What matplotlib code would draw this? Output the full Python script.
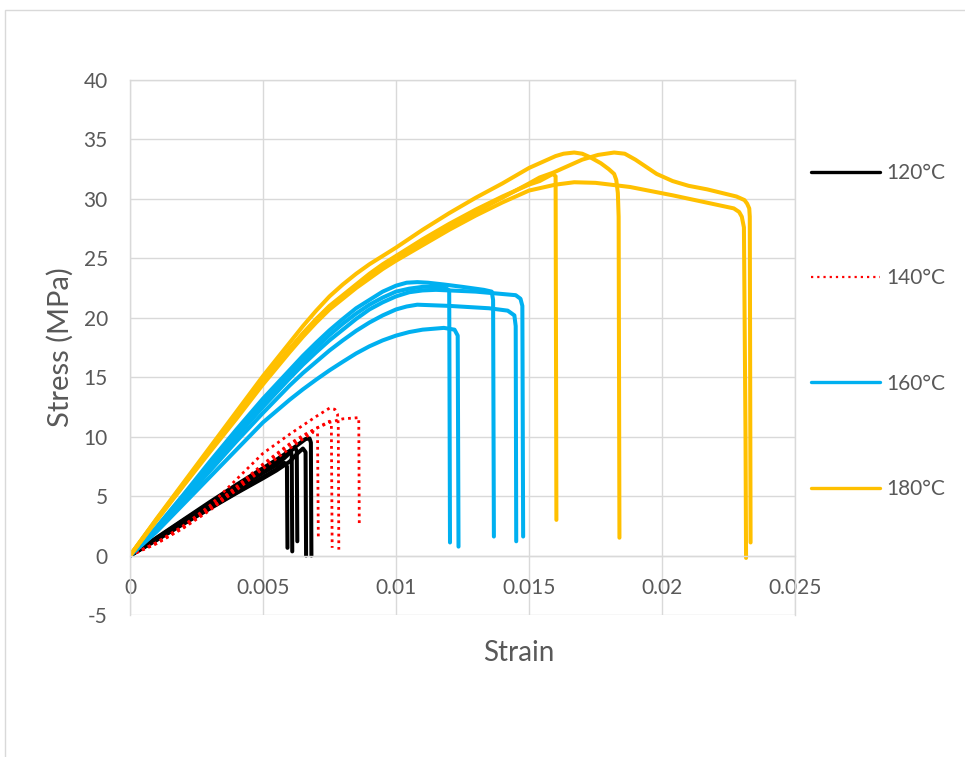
import matplotlib
matplotlib.use("Agg")
import matplotlib.pyplot as plt
from matplotlib.patches import Rectangle
from matplotlib.lines import Line2D

# ---- tensile test curves: strain (-) and stress (MPa), one list per specimen ----
strain_120 = [
    [0, 0.001, 0.002, 0.003, 0.004, 0.005, 0.0055, 0.0058, 0.0059, 0.00592],
    [0, 0.001, 0.002, 0.003, 0.004, 0.005, 0.0055, 0.0059, 0.00605, 0.00608, 0.0061],
    [0, 0.001, 0.002, 0.003, 0.004, 0.005, 0.0055, 0.006, 0.0062, 0.00627, 0.00629],
    [0, 0.001, 0.002, 0.003, 0.004, 0.005, 0.0055, 0.006, 0.0063, 0.0065, 0.0066, 0.00662],
    [0, 0.001, 0.002, 0.003, 0.004, 0.005, 0.0055, 0.006, 0.0063, 0.0066, 0.00675, 0.0068, 0.00682],
]
stress_120 = [
    [0, 1.35, 2.7, 4.0, 5.3, 6.6, 7.25, 7.8, 7.5, 0.65],
    [0, 1.4, 2.85, 4.25, 5.6, 6.95, 7.6, 8.4, 8.8, 8.4, 0.35],
    [0, 1.45, 2.95, 4.4, 5.8, 7.2, 7.9, 8.7, 9.1, 8.8, 1.2],
    [0, 1.3, 2.65, 3.95, 5.25, 6.5, 7.15, 7.9, 8.6, 9.0, 8.7, 0],
    [0, 1.5, 3.0, 4.5, 5.95, 7.35, 8.05, 8.8, 9.3, 9.8, 9.85, 9.5, 0],
]

strain_140 = [
    [0, 0.001, 0.002, 0.003, 0.004, 0.005, 0.006, 0.0065, 0.007, 0.0075, 0.0077, 0.0078, 0.00783, 0.00785],
    [0, 0.001, 0.002, 0.003, 0.004, 0.005, 0.006, 0.0065, 0.007, 0.0075, 0.00757, 0.0076],
    [0, 0.001, 0.002, 0.003, 0.004, 0.005, 0.006, 0.0065, 0.0069, 0.00705, 0.00708],
    [0, 0.001, 0.002, 0.003, 0.004, 0.005, 0.006, 0.0065, 0.007, 0.0075, 0.008, 0.0086, 0.00862],
]
stress_140 = [
    [0, 1.1, 2.5, 4.2, 6.4, 8.6, 10.2, 10.95, 11.7, 12.4, 12.3, 11.9, 11.0, 0.5],
    [0, 1.05, 2.35, 3.9, 5.7, 7.6, 9.3, 10.0, 10.7, 11.3, 11.0, 0.65],
    [0, 1.0, 2.3, 3.8, 5.5, 7.3, 9.0, 9.8, 10.4, 10.3, 1.5],
    [0, 1.05, 2.4, 4.0, 5.8, 7.7, 9.4, 10.1, 10.7, 11.2, 11.5, 11.6, 2.5],
]

strain_160 = [
    [0, 0.0005, 0.001, 0.002, 0.003, 0.004, 0.005, 0.006, 0.0065, 0.007, 0.0075, 0.008, 0.0085,
     0.009, 0.0095, 0.010, 0.0104, 0.0108, 0.0112, 0.0118, 0.0125, 0.0133, 0.0136, 0.01365, 0.01368],
    [0, 0.0005, 0.001, 0.002, 0.003, 0.004, 0.005, 0.006, 0.0065, 0.007, 0.0075, 0.008, 0.0085,
     0.009, 0.0095, 0.010, 0.0105, 0.011, 0.0115, 0.013, 0.0145, 0.01468, 0.01475, 0.01478],
    [0, 0.0005, 0.001, 0.002, 0.003, 0.004, 0.005, 0.006, 0.0065, 0.007, 0.0075, 0.008, 0.0085,
     0.009, 0.0095, 0.010, 0.0104, 0.0108, 0.012, 0.0135, 0.0142, 0.01445, 0.0145, 0.01452],
    [0, 0.0005, 0.001, 0.002, 0.003, 0.004, 0.005, 0.006, 0.0065, 0.007, 0.0075, 0.008, 0.0085,
     0.009, 0.0095, 0.010, 0.0105, 0.011, 0.0118, 0.0122, 0.01232, 0.01235],
    [0, 0.0005, 0.001, 0.002, 0.003, 0.004, 0.005, 0.006, 0.0065, 0.007, 0.0075, 0.008, 0.0085,
     0.009, 0.0095, 0.010, 0.0105, 0.011, 0.0118, 0.0120, 0.01203],
]
stress_160 = [
    [0, 1.2, 2.4, 5.1, 7.9, 10.6, 13.2, 15.6, 16.8, 17.9, 18.95, 19.9, 20.8,
     21.5, 22.2, 22.7, 22.95, 23.0, 22.95, 22.8, 22.6, 22.35, 22.2, 21.5, 1.6],
    [0, 1.1, 2.2, 4.8, 7.4, 10.0, 12.5, 14.9, 16.05, 17.1, 18.1, 19.0, 19.9,
     20.7, 21.3, 21.8, 22.15, 22.3, 22.35, 22.2, 21.9, 21.6, 21.0, 1.6],
    [0, 1.05, 2.1, 4.6, 7.1, 9.6, 12.0, 14.3, 15.35, 16.3, 17.25, 18.1, 18.9,
     19.6, 20.2, 20.7, 20.95, 21.1, 21.0, 20.8, 20.6, 20.2, 19.3, 1.2],
    [0, 1.0, 2.0, 4.3, 6.6, 8.9, 11.2, 13.1, 13.98, 14.8, 15.58, 16.3, 17.0,
     17.6, 18.1, 18.5, 18.8, 19.0, 19.15, 19.0, 18.5, 0.75],
    [0, 1.15, 2.3, 5.0, 7.7, 10.4, 12.9, 15.3, 16.45, 17.5, 18.55, 19.5, 20.35,
     21.1, 21.7, 22.2, 22.45, 22.6, 22.6, 22.3, 1.1],
]

strain_180 = [
    [0, 0.001, 0.002, 0.003, 0.004, 0.005, 0.006, 0.0065, 0.007, 0.0075, 0.008, 0.0085, 0.009,
     0.0095, 0.010, 0.011, 0.012, 0.013, 0.014, 0.015, 0.0155, 0.016, 0.0163, 0.0167, 0.0170,
     0.0173, 0.0177, 0.0180, 0.0182, 0.01828, 0.01834, 0.01837, 0.0184],
    [0, 0.001, 0.002, 0.003, 0.004, 0.005, 0.006, 0.0065, 0.007, 0.0075, 0.008, 0.0085, 0.009,
     0.0095, 0.010, 0.011, 0.012, 0.013, 0.014, 0.015, 0.0154, 0.0159, 0.0160, 0.01603],
    [0, 0.001, 0.002, 0.003, 0.004, 0.005, 0.006, 0.0065, 0.007, 0.0075, 0.008, 0.0085, 0.009,
     0.0095, 0.010, 0.011, 0.012, 0.013, 0.014, 0.015, 0.0154, 0.0159, 0.0165, 0.0170, 0.0176,
     0.0182, 0.0186, 0.0190, 0.0194, 0.0198, 0.0204, 0.0210, 0.0217, 0.0228, 0.0231, 0.0232,
     0.02328, 0.0233, 0.02333],
    [0, 0.001, 0.002, 0.003, 0.004, 0.005, 0.006, 0.0065, 0.007, 0.0075, 0.008, 0.0085, 0.009,
     0.0095, 0.010, 0.011, 0.012, 0.013, 0.014, 0.015, 0.0154, 0.0160, 0.0167, 0.0175, 0.0188,
     0.0204, 0.0227, 0.0229, 0.0230, 0.02308, 0.02314, 0.02316],
]
stress_180 = [
    [0, 3.1, 6.1, 9.1, 12.1, 15.1, 17.9, 19.3, 20.6, 21.8, 22.8, 23.7, 24.5,
     25.2, 25.9, 27.4, 28.8, 30.1, 31.3, 32.6, 33.1, 33.6, 33.8, 33.9, 33.8,
     33.5, 33.0, 32.5, 32.1, 31.6, 30.5, 28.5, 1.5],
    [0, 3.05, 6.0, 8.9, 11.8, 14.7, 17.4, 18.7, 19.9, 21.0, 21.9, 22.8, 23.7,
     24.5, 25.2, 26.6, 27.9, 29.1, 30.2, 31.2, 31.5, 32.1, 31.9, 3.0],
    [0, 3.0, 5.9, 8.8, 11.7, 14.6, 17.3, 18.6, 19.8, 20.9, 21.8, 22.7, 23.5,
     24.3, 25.0, 26.3, 27.6, 28.9, 30.1, 31.3, 31.8, 32.2, 32.8, 33.3, 33.7,
     33.9, 33.8, 33.3, 32.7, 32.1, 31.5, 31.1, 30.8, 30.2, 29.9, 29.6,
     29.2, 28.5, 1.1],
    [0, 2.95, 5.85, 8.7, 11.5, 14.4, 17.1, 18.4, 19.6, 20.7, 21.6, 22.5, 23.3,
     24.1, 24.8, 26.1, 27.4, 28.6, 29.7, 30.7, 30.9, 31.2, 31.4, 31.35, 31.0,
     30.3, 29.2, 28.9, 28.5, 27.6, 10.0, -0.2],
]

temperatures = ["120°C", "140°C", "160°C", "180°C"]
colors = ["#000000", "#FF0000", "#00B0F0", "#FFC000"]

x_ticks = [0, 0.005, 0.01, 0.015, 0.02, 0.025]
x_tick_labels = ["0", "0.005", "0.01", "0.015", "0.02", "0.025"]
y_ticks = [-5, 0, 5, 10, 15, 20, 25, 30, 35, 40]

plt.rcParams['font.family'] = ['Lato', 'DejaVu Sans']
plt.rcParams['axes.unicode_minus'] = False
text_gray = "#595959"
grid_gray = "#D9D9D9"

fig = plt.figure(figsize=(9.65, 7.57), dpi=100)
fig.patch.set_facecolor("white")

# chart-area border
fig.patches.append(Rectangle((4.5 / 965, -0.5), 2.0, 0.5 + (1 - 9.5 / 757),
                             transform=fig.transFigure, fill=False,
                             edgecolor=grid_gray, linewidth=1.0))

ax = fig.add_axes([130 / 965, 1 - 615 / 757, 665 / 965, 535 / 757])

groups = [
    (strain_120, stress_120),
    (strain_140, stress_140),
    (strain_160, stress_160),
    (strain_180, stress_180),
]
for (strains, stresses), color in zip(groups, colors):
    for xs, ys in zip(strains, stresses):
        if color == "#FF0000":
            ax.plot(xs, ys, color=color, lw=2.0, linestyle=(0, (1, 1.4)),
                    dash_joinstyle="round")
        else:
            ax.plot(xs, ys, color=color, lw=2.9, solid_capstyle="round",
                    solid_joinstyle="round")

ax.set_xlim(0, 0.025)
ax.set_ylim(-5, 40)
ax.set_xticks(x_ticks)
ax.set_xticklabels(x_tick_labels)
ax.set_yticks(y_ticks)

ax.grid(True, color=grid_gray, linewidth=1.0)
ax.set_axisbelow(True)
for side in ["left", "right", "top", "bottom"]:
    ax.spines[side].set_color(grid_gray)
    ax.spines[side].set_linewidth(1.0)
ax.spines["bottom"].set_position(("data", 0))

ax.tick_params(axis="both", length=0, labelsize=15, labelcolor=text_gray)
ax.tick_params(axis="x", pad=16)
ax.tick_params(axis="y", pad=16)

ax.set_xlabel("Strain", fontsize=20, color=text_gray)
ax.xaxis.set_label_coords((519 - 130) / 665, (615 - 640) / 535)
ax.set_ylabel("Stress (MPa)", fontsize=21, color=text_gray)
ax.yaxis.label.set_va("center")
ax.yaxis.set_label_coords((60 - 130) / 665, 0.5)

handles = [
    Line2D([], [], color=colors[0], lw=2.4, solid_capstyle="round"),
    Line2D([], [], color=colors[1], lw=1.6, linestyle=(0, (1, 1.8))),
    Line2D([], [], color=colors[2], lw=2.4, solid_capstyle="round"),
    Line2D([], [], color=colors[3], lw=2.4, solid_capstyle="round"),
]
leg = fig.legend(handles, temperatures, loc="center left",
                 bbox_to_anchor=(811 / 965, 1 - 331 / 757), frameon=False,
                 fontsize=15, handlelength=3.3, handletextpad=0.3,
                 labelspacing=4.1, borderpad=0, borderaxespad=0)
for t in leg.get_texts():
    t.set_color(text_gray)

fig.savefig("out.png", dpi=100)
